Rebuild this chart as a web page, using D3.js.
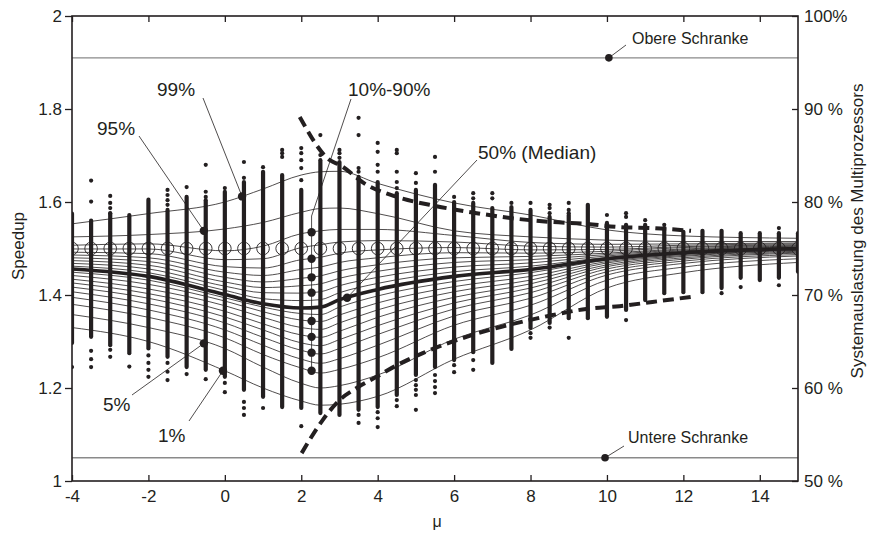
<!DOCTYPE html>
<html><head><meta charset="utf-8">
<script src="https://cdn.jsdelivr.net/npm/d3@7"></script>
<style>
body{margin:0;background:#fff}
svg{display:block}
</style></head>
<body><svg id="c" width="882" height="535"></svg>
<script>
// ---------- DATA ----------
const colMu = [-4,-3.5,-3,-2.5,-2,-1.5,-1,-0.5,0,0.5,1,1.5,2,2.5,3,3.5,4,4.5,5,5.5,6,6.5,7,7.5,8,8.5,9,9.5,10,10.5,11,11.5,12,12.5,13,13.5,14,14.5,15];
const stripHi = [1.575,1.560,1.575,1.572,1.605,1.583,1.611,1.604,1.622,1.643,1.665,1.658,1.626,1.690,1.686,1.654,1.643,1.619,1.626,1.637,1.600,1.598,1.587,1.589,1.583,1.568,1.572,1.594,1.555,1.551,1.551,1.544,1.536,1.538,1.538,1.533,1.533,1.533,1.533];
const stripLo = [1.297,1.310,1.292,1.275,1.285,1.267,1.245,1.239,1.224,1.196,1.181,1.159,1.157,1.146,1.142,1.153,1.159,1.185,1.228,1.245,1.260,1.277,1.254,1.284,1.329,1.340,1.350,1.350,1.353,1.368,1.389,1.404,1.406,1.406,1.415,1.437,1.432,1.437,1.450];
const outlierMu = [-4,-3.5,-3.5,-3.5,-3.5,-3.5,-3,-3,-3,-3,-3,-3,-2.5,-2,-2,-2,-2,-1.5,-1.5,-1.5,-1.5,-1.5,-1.5,-1.5,-1,-1,-0.5,-0.5,-0.5,-0.5,0,0,0,0.5,0.5,0.5,0.5,0.5,1,1,1.5,1.5,1.5,2,2,2,2,2,2,2.5,2.5,3,3,3,3.5,3.5,3.5,3.5,3.5,3.5,4,4,4,4,4,4,4,4.5,4.5,4.5,4.5,4.5,4.5,4.5,5,5,5,5,5,5,5,5.5,5.5,5.5,5.5,5.5,5.5,6,6,6,6.5,6.5,6.5,6.5,7,7,7.5,8,8,8,8.5,8.5,8.5,8.5,9,9,9,9,10,10.5,10.5,10.5,11,11.5,13,13.5,14.5,14.5];
const outlierVal = [1.245,1.601,1.646,1.280,1.262,1.245,1.576,1.587,1.598,1.613,1.282,1.267,1.246,1.270,1.254,1.239,1.224,1.594,1.604,1.615,1.626,1.254,1.235,1.217,1.632,1.230,1.680,1.622,1.611,1.219,1.630,1.211,1.191,1.686,1.652,1.170,1.157,1.142,1.675,1.157,1.697,1.705,1.712,1.647,1.673,1.690,1.705,1.716,1.118,1.744,1.701,1.695,1.705,1.712,1.781,1.744,1.673,1.665,1.142,1.125,1.727,1.708,1.680,1.665,1.148,1.135,1.116,1.712,1.705,1.665,1.643,1.630,1.174,1.161,1.662,1.641,1.217,1.206,1.196,1.185,1.153,1.697,1.665,1.228,1.215,1.202,1.189,1.611,1.249,1.234,1.619,1.608,1.260,1.239,1.619,1.608,1.598,1.598,1.318,1.308,1.594,1.587,1.576,1.330,1.598,1.583,1.576,1.308,1.572,1.576,1.568,1.346,1.561,1.551,1.404,1.417,1.544,1.421];

const curveMu = [-4,-2,0,1,2,2.5,3,4,6,8,10,12,15];
const pctNames = [1,5,10,15,20,25,30,35,40,45,50,55,60,65,70,75,80,85,90,95,99];
const pctValues = [
 [1.330,1.300,1.237,1.200,1.172,1.163,1.165,1.182,1.262,1.325,1.415,1.448,1.470],
 [1.358,1.330,1.285,1.245,1.210,1.200,1.205,1.228,1.305,1.357,1.432,1.460,1.478],
 [1.380,1.352,1.308,1.272,1.243,1.232,1.240,1.265,1.335,1.378,1.443,1.468,1.484],
 [1.395,1.368,1.325,1.292,1.262,1.253,1.263,1.292,1.355,1.393,1.450,1.473,1.487],
 [1.407,1.381,1.340,1.309,1.281,1.273,1.285,1.315,1.370,1.405,1.456,1.477,1.490],
 [1.417,1.393,1.353,1.325,1.297,1.291,1.304,1.334,1.383,1.415,1.461,1.480,1.492],
 [1.426,1.403,1.365,1.338,1.314,1.309,1.322,1.352,1.395,1.424,1.465,1.483,1.494],
 [1.434,1.413,1.377,1.352,1.330,1.326,1.340,1.368,1.407,1.432,1.469,1.485,1.496],
 [1.442,1.423,1.387,1.364,1.346,1.343,1.357,1.383,1.418,1.440,1.472,1.487,1.497],
 [1.449,1.432,1.394,1.374,1.360,1.358,1.374,1.398,1.429,1.448,1.475,1.489,1.498],
 [1.456,1.440,1.401,1.381,1.372,1.374,1.390,1.412,1.440,1.455,1.478,1.491,1.500],
 [1.462,1.448,1.410,1.392,1.388,1.390,1.405,1.425,1.450,1.462,1.481,1.493,1.501],
 [1.468,1.456,1.419,1.405,1.404,1.407,1.420,1.438,1.460,1.469,1.484,1.495,1.502],
 [1.474,1.464,1.428,1.416,1.420,1.424,1.436,1.451,1.470,1.476,1.487,1.497,1.503],
 [1.480,1.472,1.438,1.428,1.436,1.441,1.452,1.465,1.480,1.483,1.490,1.499,1.505],
 [1.486,1.480,1.449,1.442,1.455,1.460,1.470,1.480,1.491,1.490,1.494,1.502,1.506],
 [1.492,1.489,1.461,1.458,1.476,1.481,1.490,1.497,1.502,1.497,1.498,1.504,1.508],
 [1.499,1.499,1.476,1.478,1.502,1.508,1.514,1.517,1.514,1.505,1.503,1.507,1.510],
 [1.507,1.510,1.495,1.505,1.532,1.538,1.541,1.541,1.528,1.513,1.509,1.510,1.512],
 [1.525,1.530,1.542,1.556,1.578,1.586,1.587,1.575,1.538,1.525,1.518,1.515,1.515],
 [1.553,1.575,1.600,1.628,1.658,1.665,1.666,1.640,1.598,1.572,1.540,1.527,1.522]
];
const targetSpeedup = 1.5;

const upperDashMu  = [1.96,2.75,3.0,3.71,4.5,5.54,6.59,7.97,8.58,9.46,10.33,11.19,12.2];
const upperDashVal = [1.783,1.690,1.680,1.637,1.611,1.591,1.576,1.561,1.557,1.553,1.546,1.544,1.538];
const lowerDashMu  = [2.01,2.56,3.0,3.45,3.97,4.5,5.18,6.07,6.93,7.97,8.58,9.46,10.33,11.19,12.2];
const lowerDashVal = [1.060,1.131,1.174,1.200,1.224,1.249,1.275,1.303,1.325,1.346,1.357,1.370,1.376,1.385,1.396];

const upperBound = 1.91, lowerBound = 1.05;
const decileMarkerMu = 2.27;
const decileMarkerVal = [1.237,1.276,1.310,1.344,1.405,1.438,1.478,1.535];

const xTicks = [-4,-2,0,2,4,6,8,10,12,14];
const yTicks = [1,1.2,1.4,1.6,1.8,2];
const yRightTicks = [50,60,70,80,90,100];

// ---------- SETUP ----------
const ink = "#231f20";
const FONT = "'Liberation Sans', Arial, Helvetica, sans-serif";
const svg = d3.select("#c");
const x = d3.scaleLinear().domain([-4,15]).range([72,798]);
const y = d3.scaleLinear().domain([1,2]).range([481,16]);
const yR = d3.scaleLinear().domain([50,100]).range([481,16]);

svg.append("defs").append("clipPath").attr("id","clip")
  .append("rect").attr("x",72).attr("y",16).attr("width",726).attr("height",465);

// bounds
[upperBound, lowerBound].forEach(v=>{
  svg.append("line").attr("x1",x(-4)).attr("x2",x(15)).attr("y1",y(v)).attr("y2",y(v))
    .attr("stroke","#8a8a8a").attr("stroke-width",1.4);
});

const plot = svg.append("g").attr("clip-path","url(#clip)");

// strips
plot.selectAll("line.strip").data(colMu).join("line")
  .attr("x1",d=>x(d)).attr("x2",d=>x(d))
  .attr("y1",(d,i)=>y(stripHi[i])).attr("y2",(d,i)=>y(stripLo[i]))
  .attr("stroke",ink).attr("stroke-width",4.2).attr("stroke-linecap","round");
// outliers
plot.selectAll("circle.out").data(outlierMu).join("circle")
  .attr("cx",d=>x(d)).attr("cy",(d,i)=>y(outlierVal[i])).attr("r",2.1).attr("fill",ink);

// percentile curves
const line = d3.line().x(d=>x(d[0])).y(d=>y(d[1])).curve(d3.curveMonotoneX);
pctValues.forEach((row,k)=>{
  plot.append("path").attr("d",line(curveMu.map((m,i)=>[m,row[i]])))
    .attr("fill","none").attr("stroke",ink)
    .attr("stroke-width", pctNames[k]===50 ? 3.6 : 0.8);
});

// open circles at target
plot.selectAll("circle.tg").data(colMu).join("circle")
  .attr("cx",d=>x(d)).attr("cy",y(targetSpeedup)).attr("r",6.3)
  .attr("fill","none").attr("stroke",ink).attr("stroke-width",0.9);

// dashed envelopes
[[upperDashMu,upperDashVal],[lowerDashMu,lowerDashVal]].forEach(([m,v])=>{
  plot.append("path").attr("d",line(m.map((mm,i)=>[mm,v[i]])))
    .attr("fill","none").attr("stroke",ink).attr("stroke-width",4)
    .attr("stroke-dasharray","11,6");
});

// ---------- AXES ----------
function styleAxis(g){
  g.attr("font-family",FONT).attr("font-size",17);
  g.select(".domain").remove();
  g.selectAll("line").attr("stroke",ink).attr("stroke-width",1.3);
  g.selectAll("text").attr("fill",ink);
}
svg.append("g").attr("transform","translate(72,0)")
  .call(d3.axisLeft(y).tickValues(yTicks).tickSize(7).tickPadding(3)
    .tickFormat(d=> (d===1||d===2)? String(d) : d.toFixed(1))).call(styleAxis);
svg.append("g").attr("transform","translate(0,481)")
  .call(d3.axisBottom(x).tickValues(xTicks).tickSize(-6).tickPadding(9)
    .tickFormat(d=>String(d))).call(styleAxis);
svg.append("g").attr("transform","translate(0,16)")
  .call(d3.axisTop(x).tickValues(xTicks).tickSize(-6).tickFormat("")).call(styleAxis);
svg.append("g").attr("transform","translate(798,0)")
  .call(d3.axisRight(yR).tickValues(yRightTicks).tickSize(-6).tickPadding(6)
    .tickFormat(d=> d===100 ? "100%" : d+" %")).call(styleAxis);
svg.append("rect").attr("x",72).attr("y",16).attr("width",726).attr("height",465)
  .attr("fill","none").attr("stroke",ink).attr("stroke-width",1.6);

// titles
svg.append("text").attr("transform","translate(24,246) rotate(-90)").attr("text-anchor","middle")
  .attr("font-family",FONT).attr("font-size",17).attr("fill",ink).text("Speedup");
svg.append("text").attr("transform","translate(863,231) rotate(-90)").attr("text-anchor","middle")
  .attr("font-family",FONT).attr("font-size",17).attr("fill",ink).text("Systemauslastung des Multiprozessors");
svg.append("text").attr("x",437).attr("y",527).attr("text-anchor","middle")
  .attr("font-family",FONT).attr("font-size",16).attr("fill",ink).text("μ");

// ---------- ANNOTATIONS ----------
const ann = svg.append("g");
function dot(mu,v,r){ ann.append("circle").attr("cx",x(mu)).attr("cy",y(v)).attr("r",r||4.2).attr("fill",ink); }
function lead(x1,y1,x2,y2){ ann.append("line").attr("x1",x1).attr("y1",y1).attr("x2",x2).attr("y2",y2).attr("stroke",ink).attr("stroke-width",0.8); }
function label(t,xx,yy,fs){ ann.append("text").attr("x",xx).attr("y",yy).attr("font-family",FONT)
  .attr("font-size",fs||19).attr("fill",ink).text(t); }

// decile column
lead(x(decileMarkerMu), y(decileMarkerVal[0]), x(decileMarkerMu), y(decileMarkerVal[decileMarkerVal.length-1]));
decileMarkerVal.forEach(v=>dot(decileMarkerMu,v));
lead(351,99, x(decileMarkerMu), 216); lead(x(decileMarkerMu),216,x(decileMarkerMu),y(1.535));
label("10%-90%",348,96);

dot(0.45,1.612); lead(203,98,x(0.45),y(1.612)); label("99%",157,96);
dot(-0.55,1.538); lead(139,136,x(-0.55),y(1.538)); label("95%",97,135);
dot(-0.55,1.296); lead(132,395,x(-0.55),y(1.296)); label("5%",103,411);
dot(-0.05,1.237); lead(189,421,x(-0.05),y(1.237)); label("1%",158,442);
dot(3.2,1.394); lead(477,160,x(3.2),y(1.394)); label("50% (Median)",478,159);
dot(10.05,upperBound,3.8); lead(x(10.05),y(upperBound),626,45); label("Obere Schranke",632,44,16);
dot(9.95,lowerBound,3.8); lead(x(9.95),y(lowerBound),624,446); label("Untere Schranke",628,443,16);
</script></body></html>
